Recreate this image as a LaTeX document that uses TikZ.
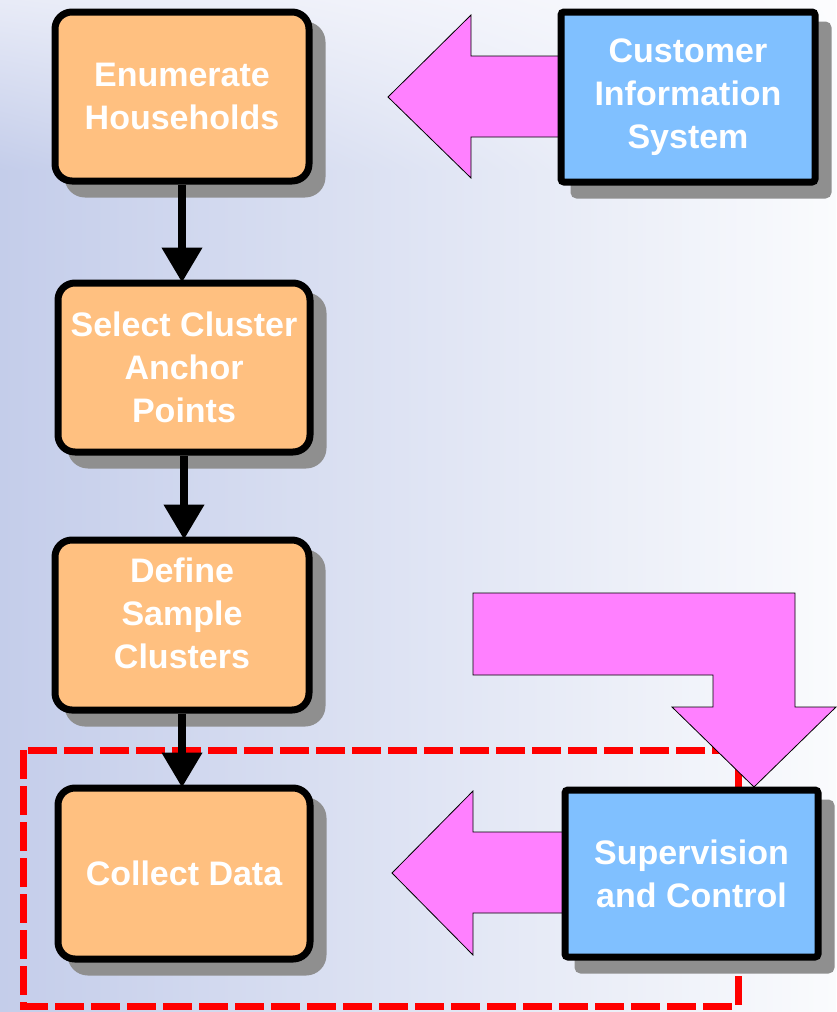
\documentclass[tikz,border=0pt]{standalone}
\usepackage{fontspec}
\setmainfont{Liberation Sans}
\usetikzlibrary{arrows.meta,shadows,shadings}
\definecolor{orangefill}{HTML}{FFC080}
\definecolor{bluefill}{HTML}{80C0FF}
\definecolor{pinkfill}{HTML}{FF80FF}
\definecolor{shadowgray}{HTML}{8F8F8F}
\definecolor{bgA}{HTML}{E8EBF7}
\definecolor{bgB}{HTML}{C4CDEA}
\definecolor{bgC}{HTML}{FCFCFE}
\definecolor{bgD}{HTML}{FAFBFD}
\definecolor{bgM}{HTML}{E6E9F6}
\definecolor{dashred}{HTML}{FF0000}
\tikzset{
  procbox/.style={draw=black, line width=7pt, fill=orangefill, rounded corners=17pt,
    minimum width=254pt, minimum height=169pt, align=center, text=white,
    font=\fontsize{34}{43}\selectfont\bfseries, inner sep=0pt,
    drop shadow={shadow xshift=13pt, shadow yshift=-13pt, fill=shadowgray,
      draw=shadowgray, line width=7pt, opacity=1}},
  sysbox/.style={procbox, fill=bluefill, rounded corners=3pt},
  flow/.style={draw=black, line width=7.5pt, shorten >=-3pt,
    -{Triangle[width=39pt,length=35pt]}},
  blockarrow/.style={fill=pinkfill, draw=black, line width=0.8pt, line join=miter},
  groupbox/.style={draw=dashred, line width=7pt, dash pattern=on 29pt off 7pt}
}
\begin{document}
\begin{tikzpicture}[x=1pt,y=-1pt]
\useasboundingbox (0,0) rectangle (836,1012);
% background
\shade[upper left=bgA, upper right=bgC, lower left=bgB, lower right=bgD] (0,0) rectangle (836,170);
\shade[left color=bgB, middle color=bgM, right color=bgD] (0,170) rectangle (836,1012);
% dashed group
\draw[groupbox] (23,750) rectangle (738,1006);
% block arrows
\draw[blockarrow] (388,97) -- (471,15) -- (471,56) -- (562,56) -- (562,137) -- (471,137) -- (471,178) -- cycle;
\draw[blockarrow] (392,873) -- (473,791) -- (473,832) -- (563,832) -- (563,913) -- (473,913) -- (473,955) -- cycle;
\draw[blockarrow] (473,593) -- (795,593) -- (795,707) -- (836,707) -- (754,787) -- (672,707) -- (713,707) -- (713,675) -- (473,675) -- cycle;
% boxes
\node[procbox] (b1) at (182,96.5) {Enumerate\\Households};
\node[procbox, minimum width=252pt] (b2) at (184,367.5) {Select Cluster\\Anchor\\Points};
\node[procbox, minimum height=170pt, text depth=24pt] (b3) at (182,625) {Define\\Sample\\Clusters};
\node[procbox, minimum width=252pt, minimum height=171pt] (b4) at (184,873.5) {Collect Data};
\node[sysbox, minimum height=170pt] (cis) at (688,97) {Customer\\Information\\System};
\node[sysbox, minimum width=253pt, minimum height=167pt] (sc) at (691.5,873.5) {Supervision\\and Control};
% flow arrows
\draw[flow] (b1.south) -- (b1.south |- b2.north);
\draw[flow] (b2.south) -- (b2.south |- b3.north);
\draw[flow] (b3.south) -- (b3.south |- b4.north);
\end{tikzpicture}
\end{document}
